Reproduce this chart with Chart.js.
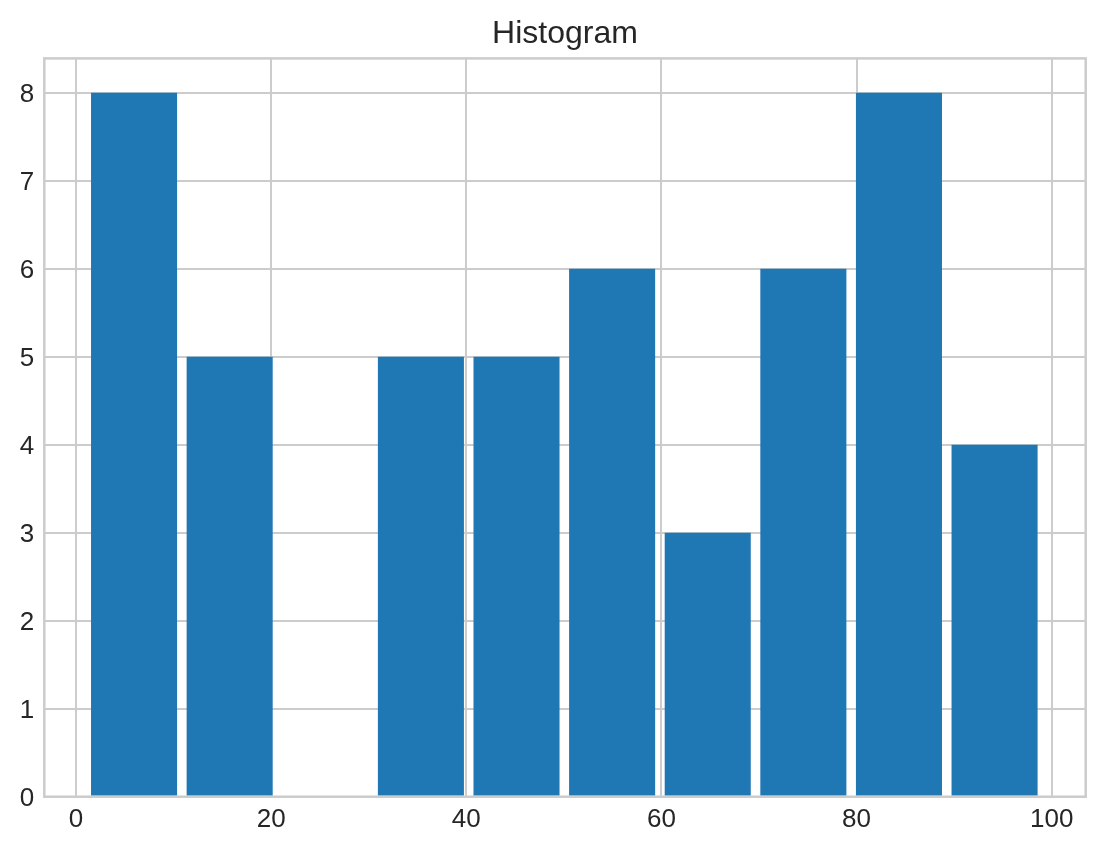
<!DOCTYPE html>
<html>
<head>
<meta charset="utf-8">
<script src="https://cdn.jsdelivr.net/npm/chart.js@4.4.1/dist/chart.umd.min.js"></script>
<style>
html,body{margin:0;padding:0;background:#fff;}
#wrap{width:1104px;height:851px;position:relative;}
</style>
</head>
<body>
<div id="wrap"><canvas id="c" width="1104" height="851"></canvas></div>
<script>
// Histogram bin centers and counts (bin width ~9.8, from ~1.05 to ~99.09)
const binCenters = [5.95, 15.75, 25.55, 35.35, 45.15, 54.95, 64.75, 74.55, 84.35, 94.15];
const counts = [8, 5, 0, 5, 5, 6, 3, 6, 8, 4];
const xTicks = [0, 20, 40, 60, 80, 100];
const yTicks = [0, 1, 2, 3, 4, 5, 6, 7, 8];
const titleText = 'Histogram';

const gridColor = '#cccccc';
const textColor = '#262626';
const fontFamily = '"Liberation Sans", Arial, sans-serif';

const frame = {
  id: 'frame',
  afterDatasetsDraw(chart) {
    const a = chart.chartArea;
    const ctx = chart.ctx;
    ctx.save();
    ctx.strokeStyle = gridColor;
    ctx.lineWidth = 2.5;
    ctx.strokeRect(a.left, a.top, a.right - a.left, a.bottom - a.top);
    ctx.restore();
  },
  afterDraw(chart) {
    // title centred over the plot area (as matplotlib does)
    const a = chart.chartArea;
    const t = chart.titleBlock;
    const ctx = chart.ctx;
    ctx.save();
    ctx.fillStyle = textColor;
    ctx.font = '32px ' + fontFamily;
    ctx.textAlign = 'center';
    ctx.textBaseline = 'middle';
    const y = t ? (t.top + 15 + 32 * 1.2 / 2) : 34;
    ctx.fillText(titleText, (a.left + a.right) / 2, y);
    ctx.restore();
  }
};

new Chart(document.getElementById('c'), {
  type: 'bar',
  data: {
    datasets: [{
      data: binCenters.map((x, i) => ({x: x, y: counts[i]})),
      backgroundColor: '#1f77b4',
      borderWidth: 0,
      barPercentage: 0.9,
      categoryPercentage: 1.0
    }]
  },
  options: {
    responsive: false,
    animation: false,
    devicePixelRatio: 1,
    layout: { padding: { left: 0, right: 18.3, top: 0, bottom: 0 } },
    plugins: {
      legend: { display: false },
      tooltip: { enabled: false },
      title: {
        display: true,
        text: titleText,
        color: 'rgba(0,0,0,0)',
        font: { family: fontFamily, size: 32, weight: 'normal', lineHeight: 1.2 },
        padding: { top: 15, bottom: 5 }
      }
    },
    scales: {
      x: {
        type: 'linear',
        offset: false,
        min: -3.25,
        max: 103.49,
        afterBuildTicks: (s) => { s.ticks = xTicks.map(v => ({value: v})); },
        afterFit: (s) => { s.height = 54.3; },
        grid: { color: gridColor, lineWidth: 2, drawTicks: false, offset: false },
        border: { display: false },
        ticks: {
          color: textColor,
          padding: 8,
          maxRotation: 0,
          autoSkip: false,
          font: { family: fontFamily, size: 26 },
          callback: (v) => String(v)
        }
      },
      y: {
        min: 0,
        max: 8.39,
        afterBuildTicks: (s) => { s.ticks = yTicks.map(v => ({value: v})); },
        afterFit: (s) => { s.width = 44.3; },
        grid: { color: gridColor, lineWidth: 2, drawTicks: false },
        border: { display: false },
        ticks: {
          color: textColor,
          padding: 10,
          labelOffset: 2,
          autoSkip: false,
          font: { family: fontFamily, size: 26 },
          callback: (v) => String(v)
        }
      }
    }
  },
  plugins: [frame]
});
</script>
</body>
</html>
